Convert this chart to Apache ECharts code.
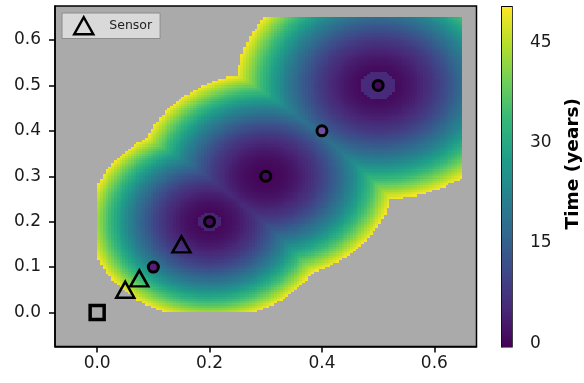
<!DOCTYPE html>
<html>
<head>
<meta charset="utf-8">
<script src="https://cdn.jsdelivr.net/npm/echarts@6/dist/echarts.min.js"></script>
<style>
  html, body { margin: 0; padding: 0; background: #ffffff; }
  #chart { width: 584px; height: 383px; }
</style>
</head>
<body>
<div id="chart"></div>
<script>
// Observation wells along the diagonal
const wellX = [0.1, 0.2, 0.3, 0.4, 0.5];
const wellY = [0.1, 0.2, 0.3, 0.4, 0.5];
const wellFill = ['#581c7a', '#440a5c', '#440a5c', '#6e4f9e', '#440a5c'];

// Plume sources: location, distance reached at the 50-year limit,
// and the small plateau the solver leaves right around each source
const sourceX = [0.2, 0.3, 0.5];
const sourceY = [0.2, 0.3, 0.5];
const sourceReach = [0.215, 0.228, 0.252];
const coreRadius = [0.021, 0, 0.031];
const coreTime = [4.5, 0, 5.5];

// Sensors and the reference point
const sensorX = [0.05, 0.075, 0.15];
const sensorY = [0.05, 0.075, 0.15];
const originX = [0];
const originY = [0];

// Tick labels
const xTicks = [0, 0.2, 0.4, 0.6];
const yTicks = [0, 0.1, 0.2, 0.3, 0.4, 0.5, 0.6];
const timeTicks = [0, 15, 30, 45];

// Model domain and colour limits
const timeMax = 50;
const domainMin = 0, domainMax = 0.65, cell = 0.005;
const cbarMin = -0.5, cbarMax = 50.3;

const viridis = ['#440154', '#482878', '#3e4989', '#31688e', '#26828e',
                 '#1f9e89', '#35b779', '#6ece58', '#b5de2b', '#fde725'];

// Arrival time on the model grid: earliest arrival over all sources,
// cells beyond the 50-year limit are left empty
const field = [];
const nCells = Math.round((domainMax - domainMin) / cell);
for (let i = 0; i < nCells; i++) {
  for (let j = 0; j < nCells; j++) {
    const x0 = domainMin + i * cell, y0 = domainMin + j * cell;
    const x = x0 + cell / 2, y = y0 + cell / 2;
    let t = Infinity;
    for (let k = 0; k < sourceX.length; k++) {
      const d = Math.hypot(x - sourceX[k], y - sourceY[k]);
      const tk = d < coreRadius[k] ? coreTime[k] : timeMax * Math.pow(d / sourceReach[k], 2);
      if (tk < t) t = tk;
    }
    if (t <= timeMax) field.push([x, y, t, x0, y0]);
  }
}

// Colour bar levels
const cbarStep = 0.2;
const cbarLevels = [];
for (let v = cbarMin; v < cbarMax - 1e-9; v += cbarStep) cbarLevels.push([0.5, v, v + cbarStep / 2]);

const font = 'DejaVu Sans';
const tickLabel = { fontFamily: font, fontSize: 17, color: '#1a1a1a' };

// Rectangle snapped to whole pixels so neighbouring cells share edges
function snappedRect(api, xa, ya, xb, yb) {
  const p = api.coord([xa, ya]);
  const q = api.coord([xb, yb]);
  const l = Math.round(Math.min(p[0], q[0])), r = Math.round(Math.max(p[0], q[0]));
  const t = Math.round(Math.min(p[1], q[1])), b = Math.round(Math.max(p[1], q[1]));
  return { x: l, y: t, width: r - l, height: b - t };
}

const chart = echarts.init(document.getElementById('chart'), null, { renderer: 'canvas' });

chart.setOption({
  animation: false,
  backgroundColor: '#ffffff',
  grid: [
    { left: 55, top: 6, width: 421.5, height: 340.5, show: true,
      backgroundColor: '#aaaaaa', borderColor: '#000', borderWidth: 1.5, containLabel: false },
    { left: 502, top: 6.7, width: 18, height: 340, show: true,
      backgroundColor: 'transparent', borderColor: '#000', borderWidth: 1.5, containLabel: false }
  ],
  xAxis: [
    { type: 'value', gridIndex: 0, min: -0.075, max: 0.675,
      axisLine: { show: true, onZero: false, lineStyle: { color: '#000', width: 1.5 } },
      axisTick: { show: true, length: 6, customValues: xTicks, lineStyle: { color: '#000', width: 1.5 } },
      axisLabel: { ...tickLabel, margin: 9, customValues: xTicks, formatter: v => v.toFixed(1) },
      splitLine: { show: false } },
    { type: 'value', gridIndex: 1, min: 0, max: 1, show: false }
  ],
  yAxis: [
    { type: 'value', gridIndex: 0, min: -0.075, max: 0.675,
      axisLine: { show: true, onZero: false, lineStyle: { color: '#000', width: 1.5 } },
      axisTick: { show: true, length: 6, customValues: yTicks, lineStyle: { color: '#000', width: 1.5 } },
      axisLabel: { ...tickLabel, margin: 14, customValues: yTicks, formatter: v => v.toFixed(1) },
      splitLine: { show: false } },
    { type: 'value', gridIndex: 1, position: 'right', min: cbarMin, max: cbarMax,
      axisLine: { show: true, lineStyle: { color: '#000', width: 1.5 } },
      axisTick: { show: true, length: 6, customValues: timeTicks, lineStyle: { color: '#000', width: 1.5 } },
      axisLabel: { ...tickLabel, margin: 18, customValues: timeTicks },
      splitLine: { show: false },
      name: 'Time (years)', nameLocation: 'middle', nameGap: 52, nameRotate: 90,
      nameTextStyle: { fontFamily: font, fontSize: 18.5, fontWeight: 'bold', color: '#000',
                       padding: [0, 0, 0, 26] } }
  ],
  visualMap: [
    { type: 'continuous', show: false, min: cbarMin, max: cbarMax, dimension: 2,
      seriesIndex: [0, 4], inRange: { color: viridis } }
  ],
  legend: {
    data: ['Sensor'], left: 62, top: 13, orient: 'horizontal',
    backgroundColor: '#d9d9d9', borderColor: '#8c8c8c', borderWidth: 1, borderRadius: 0,
    padding: [3, 8, 3, 11], itemWidth: 19, itemHeight: 17,
    itemStyle: { color: 'rgba(0,0,0,0)', borderColor: '#000', borderWidth: 2.5, opacity: 1 },
    textStyle: { fontFamily: font, fontSize: 12.5, color: '#222', padding: [0, 0, 0, 11] }
  },
  series: [
    { type: 'custom', name: 'field', xAxisIndex: 0, yAxisIndex: 0, data: field,
      encode: { x: 0, y: 1 }, silent: true, z: 1, clip: true, progressive: 0,
      itemStyle: { opacity: 1 },
      renderItem(params, api) {
        const x0 = api.value(3), y0 = api.value(4);
        return { type: 'rect', shape: snappedRect(api, x0, y0, x0 + cell, y0 + cell),
          style: { fill: api.visual('color'), stroke: null, lineWidth: 0, opacity: 1 } };
      } },
    { type: 'scatter', name: 'wells', xAxisIndex: 0, yAxisIndex: 0, z: 3,
      symbol: 'circle', symbolSize: 10,
      data: wellX.map((x, i) => ({ value: [x, wellY[i]], itemStyle: { color: wellFill[i] } })),
      itemStyle: { borderColor: '#000', borderWidth: 3, opacity: 1 } },
    { type: 'scatter', name: 'Sensor', xAxisIndex: 0, yAxisIndex: 0, z: 4,
      symbol: 'triangle', symbolSize: [18, 16],
      data: sensorX.map((x, i) => [x, sensorY[i]]),
      itemStyle: { color: 'rgba(0,0,0,0)', borderColor: '#000', borderWidth: 2.5, opacity: 1 } },
    { type: 'scatter', name: 'origin', xAxisIndex: 0, yAxisIndex: 0, z: 4,
      symbol: 'rect', symbolSize: 14,
      data: originX.map((x, i) => [x, originY[i]]),
      itemStyle: { color: 'rgba(0,0,0,0)', borderColor: '#000', borderWidth: 3.5, opacity: 1 } },
    { type: 'custom', name: 'colorbar', xAxisIndex: 1, yAxisIndex: 1, data: cbarLevels,
      encode: { x: 0, y: 1 }, silent: true, z: 1, progressive: 0,
      itemStyle: { opacity: 1 },
      renderItem(params, api) {
        const v = api.value(1);
        return { type: 'rect', shape: snappedRect(api, 0, v, 1, v + cbarStep),
          style: { fill: api.visual('color'), stroke: null, lineWidth: 0, opacity: 1 } };
      } }
  ]
});
</script>
</body>
</html>
